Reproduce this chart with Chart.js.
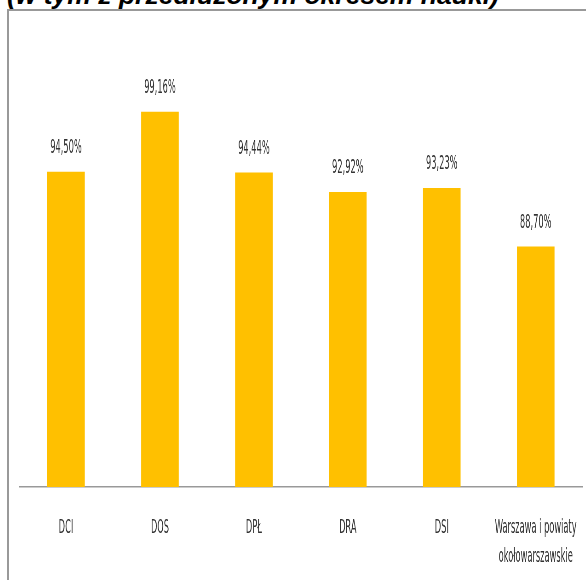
<!DOCTYPE html>
<html>
<head>
<meta charset="utf-8">
<script src="https://cdn.jsdelivr.net/npm/chart.js@4/dist/chart.umd.min.js"></script>
<style>
  html, body { margin: 0; padding: 0; overflow: hidden; background: #fff; width: 586px; height: 580px; }
  #title {
    position: absolute; left: 7px; top: -18px; white-space: nowrap;
    font: italic bold 26.5px/26px 'Liberation Sans', Arial, sans-serif; color: #000;
  }
  #frame {
    position: absolute; left: 7px; top: 9px; width: 620px; height: 620px;
    border: 2px solid #999; box-sizing: border-box;
  }
  #wrap {
    position: absolute; left: 10px; top: 11px; width: 1259px; height: 596px;
    transform: scaleX(0.46); transform-origin: 0 0;
  }
</style>
</head>
<body>
<div id="title">(w tym z przedłużonym okresem nauki)</div>
<div id="frame"></div>
<div id="wrap"><canvas id="barchart"></canvas></div>
<script>
var categories = ["DCI", "DOS", "DPŁ", "DRA", "DSI", ["Warszawa i powiaty", "okołowarszawskie"]];
var values = [94.50, 99.16, 94.44, 92.92, 93.23, 88.70];
var valueLabels = ["94,50%", "99,16%", "94,44%", "92,92%", "93,23%", "88,70%"];

var labelFont = "'Liberation Sans Narrow', 'DejaVu Sans Condensed', sans-serif";

// draws the value above each bar
var barLabels = {
  id: 'barLabels',
  afterDatasetsDraw: function(chart) {
    var ctx = chart.ctx;
    ctx.save();
    ctx.font = "20px " + labelFont;
    ctx.fillStyle = "#333";
    ctx.textAlign = "center";
    ctx.textBaseline = "middle";
    chart.getDatasetMeta(0).data.forEach(function(bar, i) {
      ctx.fillText(valueLabels[i], bar.x, bar.y - 24);
    });
    ctx.restore();
  }
};

new Chart(document.getElementById("barchart"), {
  type: 'bar',
  data: {
    labels: categories,
    datasets: [{
      data: values,
      backgroundColor: "#FFC000",
      borderWidth: 0,
      barPercentage: 0.4,
      categoryPercentage: 1
    }]
  },
  options: {
    responsive: true,
    maintainAspectRatio: false,
    animation: false,
    layout: { padding: { top: 90, left: 19.6, right: 14, bottom: 10 } },
    plugins: {
      legend: { display: false },
      tooltip: { enabled: false }
    },
    scales: {
      y: { display: false, min: 70, max: 100 },
      x: {
        grid: { display: false, drawTicks: false },
        border: { display: true, color: "#999", width: 1.5 },
        ticks: {
          padding: 26,
          color: "#333",
          maxRotation: 0,
          autoSkip: false,
          font: { family: labelFont, size: 20, lineHeight: 1.45 }
        }
      }
    }
  },
  plugins: [barLabels]
});
</script>
</body>
</html>
